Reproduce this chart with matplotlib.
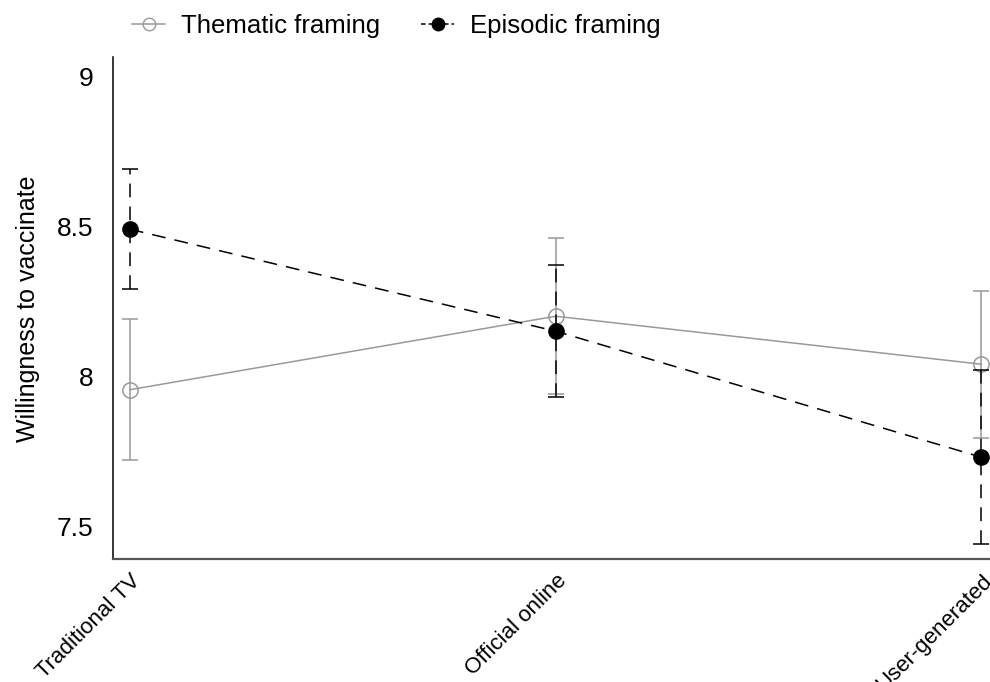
import matplotlib
matplotlib.use("Agg")
import matplotlib.pyplot as plt
from matplotlib.lines import Line2D

plt.rcParams['font.family'] = ['Liberation Sans', 'DejaVu Sans']

# datos
categories = ["Traditional TV", "Official online", "User-generated"]
thematic_mean = [7.955, 8.20, 8.04]
thematic_err = [0.235, 0.26, 0.245]
episodic_mean = [8.49, 8.15, 7.73]
episodic_err = [0.20, 0.22, 0.29]

GRAY = "#999999"
x = list(range(len(categories)))

fig = plt.figure(figsize=(9.9, 6.82), dpi=100)
ax = fig.add_axes([0.114, 0.18, 0.886, 0.736])

# Thematic: linea gris solida, circulo abierto
ax.errorbar(x, thematic_mean, yerr=thematic_err, color=GRAY, lw=1.1,
            marker="o", markersize=11, markerfacecolor="none",
            markeredgecolor=GRAY, markeredgewidth=1.1,
            ecolor=GRAY, elinewidth=1.1, capsize=5.5, capthick=1.1,
            zorder=2)

# Episodic: linea negra discontinua, circulo relleno
ep = ax.errorbar(x, episodic_mean, yerr=episodic_err, color="black", lw=1.1,
                 dashes=(9, 6), marker="o", markersize=11,
                 markerfacecolor="black", markeredgecolor="black",
                 ecolor="black", elinewidth=1.1, capsize=5.5, capthick=1.1,
                 zorder=3)
for bl in ep[2]:
    bl.set_linestyle((0, (9, 6)))

ax.set_xlim(-0.04, 2.02)
ax.set_ylim(7.39, 9.063)
ax.set_yticks([7.5, 8, 8.5, 9])
ax.set_yticklabels(["7.5", "8", "8.5", "9"])
ax.set_xticks(x)
ax.set_xticklabels(categories, rotation=45, ha="right",
                   rotation_mode="anchor", fontsize=16)
ax.tick_params(axis="both", length=0)
ax.tick_params(axis="y", labelsize=19, pad=14)
ax.tick_params(axis="x", pad=8)
ax.set_ylabel("Willingness to vaccinate", fontsize=18, labelpad=12)

ax.spines["top"].set_visible(False)
ax.spines["right"].set_visible(False)
ax.spines["left"].set_color("black")
ax.spines["bottom"].set_color("#555555")
ax.spines["left"].set_linewidth(1.1)
ax.spines["bottom"].set_linewidth(1.6)

# leyenda sin barras de error
h_th = Line2D([], [], color=GRAY, lw=1.1, marker="o", markersize=9,
              markerfacecolor="none", markeredgecolor=GRAY)
h_ep = Line2D([], [], color="black", lw=1.1, dashes=(3, 2), marker="o",
              markersize=9, markerfacecolor="black")
fig.legend(handles=[h_th, h_ep], labels=["Thematic framing", "Episodic framing"],
           loc="upper left", bbox_to_anchor=(0.110, 1.013), ncol=2,
           frameon=False, fontsize=18.5, handlelength=1.3, handletextpad=0.6,
           columnspacing=1.6)

fig.savefig("out.png", dpi=100)
